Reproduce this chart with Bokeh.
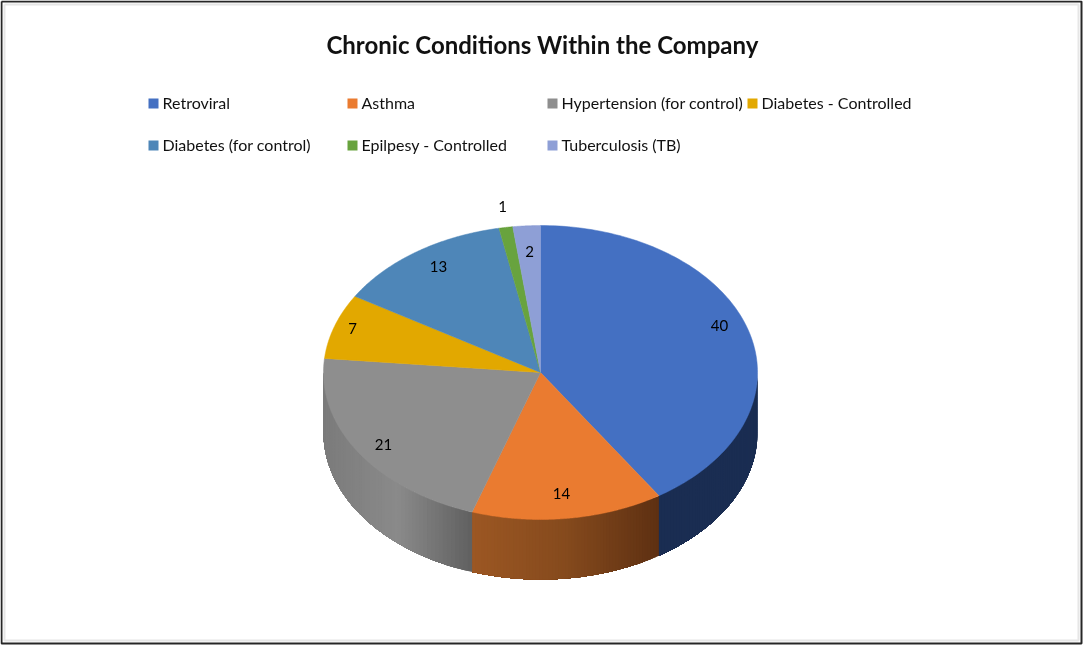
import numpy as np
from bokeh.plotting import figure
from bokeh.models import Range1d
from bokeh.core.properties import value
from bokeh.embed import file_html
from bokeh.resources import INLINE

# data
categories = ["Retroviral", "Asthma", "Hypertension (for control)", "Diabetes - Controlled",
              "Diabetes (for control)", "Epilpesy - Controlled", "Tuberculosis (TB)"]
values = [40, 14, 21, 7, 13, 1, 2]
title_text = "Chronic Conditions Within the Company"

# styles
colors = ["#4470c2", "#ea7b30", "#8e8e8e", "#e2a800", "#4e86b8", "#68a33e", "#8e9fd6"]
side_stops = [["#1a2d52", "#1a2d52"],
              ["#9c5723", "#854a1d", "#5e3012"],
              ["#7b7b7b", "#8a8a8a", "#606060"]]

# layout
W, H = 1083, 645
CX, CY, RX, RY, DEPTH = 540, 372, 217, 147, 60
legend_mx = [153, 352, 552, 752, 153, 352, 552]
legend_my = [103, 103, 103, 103, 145, 145, 145]
label_x = [719, 561, 383, 352, 438, 502, 529]
label_y = [326, 494, 445, 329, 267, 207, 252]
FONT = "Lato"

p = figure(width=W, height=H, x_range=Range1d(0, W), y_range=Range1d(H, 0),
           toolbar_location=None, output_backend="svg", min_border=0,
           background_fill_color="white", border_fill_color="white")
p.axis.visible = False
p.grid.visible = False
p.outline_line_color = None
p.styles = {"position": "fixed", "left": "0px", "top": "0px"}

# frame
p.multi_line(xs=[[4, 4, 1078, 1078, 4], [1, 1, 1081, 1081, 1]],
             ys=[[4, 640, 640, 4, 4], [1, 643, 643, 1, 1]],
             line_color=["#e6e6e6", "#262626"], line_width=[2, 2])

def hex2rgb(c):
    return np.array([int(c[i:i + 2], 16) for i in (1, 3, 5)], float)

def mix(stops, t):
    pos = t * (len(stops) - 1)
    i = min(int(pos), len(stops) - 2)
    f = pos - i
    c = hex2rgb(stops[i]) * (1 - f) + hex2rgb(stops[i + 1]) * f
    return "#%02x%02x%02x" % tuple(int(round(v)) for v in c)

edges = np.cumsum([0] + values) / sum(values) * 2 * np.pi

# side wall (visible part: angles pi/2 .. 3pi/2 clockwise from 12 o'clock)
sx, sy, sc = [], [], []
for k, stops in enumerate(side_stops):
    a0 = max(edges[k], np.pi / 2)
    a1 = min(edges[k + 1], 3 * np.pi / 2)
    x0, x1 = CX + RX * np.sin(a0), CX + RX * np.sin(a1)
    n = 60
    for j in range(n):
        # every strip runs to the end of its slice, later strips paint over it: no seams
        th = np.linspace(a0 + (a1 - a0) * j / n, a1, n + 1 - j)
        xa = CX + RX * np.sin(th)
        ya = CY - RY * np.cos(th)
        sx.append(list(xa) + list(xa[::-1]))
        sy.append(list(ya) + list(ya[::-1] + DEPTH))
        t = (CX + RX * np.sin(a0 + (a1 - a0) * (j + 0.5) / n) - x1) / (x0 - x1)
        sc.append(mix(stops, t))
p.patches(sx, sy, fill_color=sc, line_color=None)

# top face
xs, ys = [], []
for a0, a1 in zip(edges[:-1], edges[1:]):
    th = np.linspace(a0, a1, 120)
    xs.append([CX] + list(CX + RX * np.sin(th)))
    ys.append([CY] + list(CY - RY * np.cos(th)))
p.patches(xs, ys, fill_color=colors, line_color=colors, line_width=0.5)

# value labels
p.text(label_x, [y - 1 for y in label_y], text=[str(v) for v in values], text_font=value(FONT),
       text_font_size="15px", text_color="#000000", text_align="center", text_baseline="middle")

# title
p.text([542], [44], text=[title_text], text_font=value(FONT), text_font_style="bold",
       text_font_size="24px", text_color="#111111", text_align="center", text_baseline="middle")

# legend
p.scatter(legend_mx, legend_my, marker="square", size=10, fill_color=colors, line_color=None)
p.text([x + 9 for x in legend_mx], [y - 1 for y in legend_my], text=categories, text_font=value(FONT),
       text_font_size="16px", text_color="#111111", text_align="left", text_baseline="middle")

open("out.html", "w").write(file_html(p, INLINE))
